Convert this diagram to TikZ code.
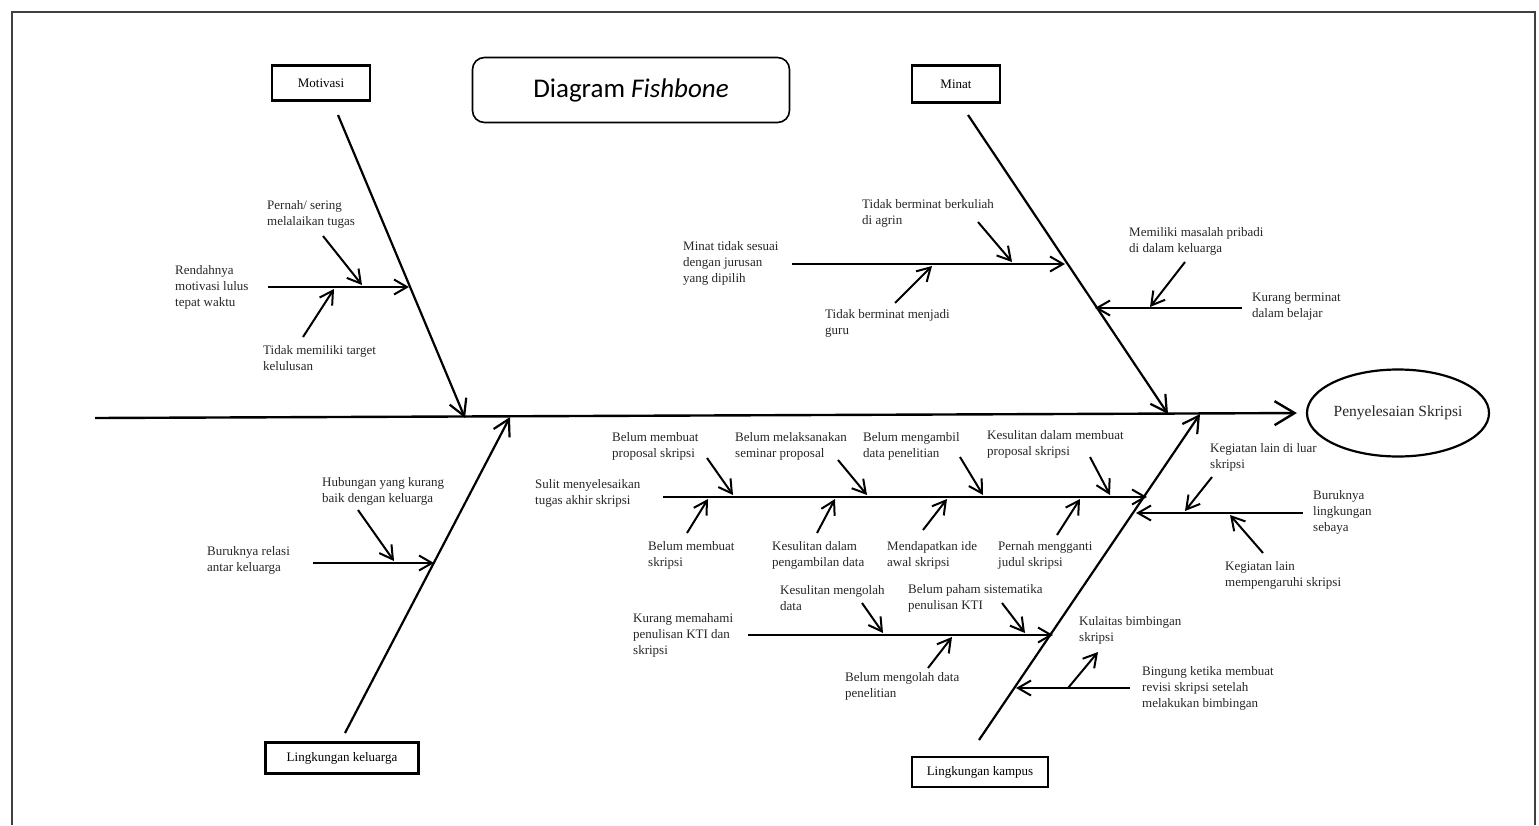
\documentclass[tikz,border=0pt]{standalone}
\usepackage{fontspec}
\setmainfont{Liberation Serif}
\newfontfamily\titlefont{Carlito}
\usetikzlibrary{arrows.meta,shapes.geometric}

\tikzset{
  cause/.style={draw, line width=2.4pt, inner sep=3pt, font=\fontsize{13}{16}\selectfont},
  lbl/.style={anchor=west, align=left, inner sep=0pt, text=black!85, font=\fontsize{13}{16}\selectfont},
  bone/.style={line width=2.2pt, -{Straight Barb[length=16pt,width=18pt]}},
  twig/.style={line width=2pt, -{Straight Barb[length=13pt,width=15pt]}},
}

\begin{document}
\begin{tikzpicture}[x=1pt, y=-1pt]
    \useasboundingbox (0,0) rectangle (1539,825);
    \draw[line width=2pt, black!75] (12,825) |- (1535,12) -- (1535,825);

    \node[draw, rounded corners=12pt, line width=1.6pt, minimum width=317pt, minimum height=65pt,
          font=\titlefont\fontsize{27}{32}\selectfont] (title) at (631,90) {Diagram \textit{Fishbone}};
    \node[draw, ellipse, line width=2.2pt, inner sep=0pt, minimum width=173pt, minimum height=87pt,
          font=\fontsize{15.5}{18}\selectfont, text=black!85] (eff) at (1398,413) {Penyelesaian Skripsi};

    \node[cause, minimum width=98pt,  minimum height=35pt] (mot) at (321,83)  {Motivasi};
    \node[cause, minimum width=153pt, minimum height=31pt] (kel) at (342,758) {Lingkungan keluarga};
    \node[cause, minimum width=88pt,  minimum height=37pt] (min) at (956,84)  {Minat};
    \node[cause, minimum width=136pt, minimum height=30pt] (kam) at (980,772) {Lingkungan kampus};

    \coordinate (tail) at (95,418);
    \coordinate (motT) at (338,115);  \coordinate (motH) at (465,418);
    \coordinate (kelT) at (345,733);  \coordinate (kelH) at (510,417);
    \coordinate (minT) at (968,115);  \coordinate (minH) at (1168,414);
    \coordinate (kamT) at (979,740);  \coordinate (kamH) at (1200,414);

    \node[lbl] (m1)  at (175,287) {Rendahnya\\motivasi lulus\\tepat waktu};
    \node[lbl] (m1a) at (267,214) {Pernah/ sering\\melalaikan tugas};
    \node[lbl] (m1b) at (263,358) {Tidak memiliki target\\kelulusan};
    \node[lbl] (k1)  at (207,560) {Buruknya relasi\\antar keluarga};
    \node[lbl] (k1a) at (322,491) {Hubungan yang kurang\\baik dengan keluarga};
    \node[lbl] (n1)  at (683,263) {Minat tidak sesuai\\dengan jurusan\\yang dipilih};
    \node[lbl] (n1a) at (862,213) {Tidak berminat berkuliah\\di agrin};
    \node[lbl] (n1b) at (825,323) {Tidak berminat menjadi\\guru};
    \node[lbl] (n2)  at (1252,306) {Kurang berminat\\dalam belajar};
    \node[lbl] (n2a) at (1129,241) {Memiliki masalah pribadi\\di dalam keluarga};
    \node[lbl] (p1)  at (535,493) {Sulit menyelesaikan\\tugas akhir skripsi};
    \node[lbl] (p1a) at (612,446) {Belum membuat\\proposal skripsi};
    \node[lbl] (p1b) at (735,446) {Belum melaksanakan\\seminar proposal};
    \node[lbl] (p1c) at (863,446) {Belum mengambil\\data penelitian};
    \node[lbl] (p1d) at (987,444) {Kesulitan dalam membuat\\proposal skripsi};
    \node[lbl] (p1e) at (648,555) {Belum membuat\\skripsi};
    \node[lbl] (p1f) at (772,555) {Kesulitan dalam\\pengambilan data};
    \node[lbl] (p1g) at (887,555) {Mendapatkan ide\\awal skripsi};
    \node[lbl] (p1h) at (998,555) {Pernah mengganti\\judul skripsi};
    \node[lbl] (p2)  at (1313,512) {Buruknya\\lingkungan\\sebaya};
    \node[lbl] (p2a) at (1210,457) {Kegiatan lain di luar\\skripsi};
    \node[lbl] (p2b) at (1225,575) {Kegiatan lain\\mempengaruhi skripsi};
    \node[lbl] (p3)  at (633,635) {Kurang memahami\\penulisan KTI dan\\skripsi};
    \node[lbl] (p3a) at (780,598) {Kesulitan mengolah\\data};
    \node[lbl] (p3b) at (908,598) {Belum paham sistematika\\penulisan KTI};
    \node[lbl] (p3c) at (845,686) {Belum mengolah data\\penelitian};
    \node[lbl] (p4)  at (1142,688) {Bingung ketika membuat\\revisi skripsi setelah\\melakukan bimbingan};
    \node[lbl] (p4a) at (1079,630) {Kulaitas bimbingan\\skripsi};

    \coordinate (m1S) at (268,287);   \coordinate (m1H) at (409,287);
    \coordinate (m1aT) at (323,236);  \coordinate (m1aH) at (362,285);
    \coordinate (m1bT) at (303,337);  \coordinate (m1bH) at (334,289);
    \coordinate (k1S) at (313,563);   \coordinate (k1H) at (434,563);
    \coordinate (k1aT) at (358,510);  \coordinate (k1aH) at (394,561);
    \coordinate (n1S) at (792,264);   \coordinate (n1H) at (1065,264);
    \coordinate (n1aT) at (978,222);  \coordinate (n1aH) at (1012,262);
    \coordinate (n1bT) at (895,303);  \coordinate (n1bH) at (932,266);
    \coordinate (n2S) at (1242,308);  \coordinate (n2H) at (1095,308);
    \coordinate (n2aT) at (1185,262); \coordinate (n2aH) at (1150,307);
    \coordinate (p1S) at (663,497);   \coordinate (p1H) at (1147,497);
    \coordinate (p1aT) at (707,458);  \coordinate (p1aH) at (733,495);
    \coordinate (p1bT) at (838,460);  \coordinate (p1bH) at (867,495);
    \coordinate (p1cT) at (960,457);  \coordinate (p1cH) at (983,495);
    \coordinate (p1dT) at (1090,457); \coordinate (p1dH) at (1110,495);
    \coordinate (p1eT) at (687,533);  \coordinate (p1eH) at (708,499);
    \coordinate (p1fT) at (817,533);  \coordinate (p1fH) at (835,499);
    \coordinate (p1gT) at (923,530);  \coordinate (p1gH) at (947,499);
    \coordinate (p1hT) at (1057,535); \coordinate (p1hH) at (1080,499);
    \coordinate (p2S) at (1303,513);  \coordinate (p2H) at (1136,513);
    \coordinate (p2aT) at (1212,477); \coordinate (p2aH) at (1185,511);
    \coordinate (p2bT) at (1263,553); \coordinate (p2bH) at (1230,515);
    \coordinate (p3S) at (748,635);   \coordinate (p3H) at (1053,635);
    \coordinate (p3aT) at (862,603);  \coordinate (p3aH) at (883,633);
    \coordinate (p3bT) at (1002,603); \coordinate (p3bH) at (1025,633);
    \coordinate (p3cT) at (928,668);  \coordinate (p3cH) at (952,637);
    \coordinate (p4S) at (1130,688);  \coordinate (p4H) at (1016,688);
    \coordinate (p4aT) at (1068,688); \coordinate (p4aH) at (1098,652);

    \draw[line width=2.4pt, -{Straight Barb[length=20pt,width=24pt]}, shorten >=9pt] (tail) -- (eff.west);
    \draw[bone] (motT) -- (motH);
    \draw[bone] (kelT) -- (kelH);
    \draw[bone] (minT) -- (minH);
    \draw[bone] (kamT) -- (kamH);

    \draw[twig] (m1S) -- (m1H);
    \draw[twig] (m1aT) -- (m1aH);
    \draw[twig] (m1bT) -- (m1bH);
    \draw[twig] (k1S) -- (k1H);
    \draw[twig] (k1aT) -- (k1aH);
    \draw[twig] (n1S) -- (n1H);
    \draw[twig] (n1aT) -- (n1aH);
    \draw[twig] (n1bT) -- (n1bH);
    \draw[twig] (n2S) -- (n2H);
    \draw[twig] (n2aT) -- (n2aH);
    \draw[twig] (p1S) -- (p1H);
    \draw[twig] (p1aT) -- (p1aH);
    \draw[twig] (p1bT) -- (p1bH);
    \draw[twig] (p1cT) -- (p1cH);
    \draw[twig] (p1dT) -- (p1dH);
    \draw[twig] (p1eT) -- (p1eH);
    \draw[twig] (p1fT) -- (p1fH);
    \draw[twig] (p1gT) -- (p1gH);
    \draw[twig] (p1hT) -- (p1hH);
    \draw[twig] (p2S) -- (p2H);
    \draw[twig] (p2aT) -- (p2aH);
    \draw[twig] (p2bT) -- (p2bH);
    \draw[twig] (p3S) -- (p3H);
    \draw[twig] (p3aT) -- (p3aH);
    \draw[twig] (p3bT) -- (p3bH);
    \draw[twig] (p3cT) -- (p3cH);
    \draw[twig] (p4S) -- (p4H);
    \draw[twig] (p4aT) -- (p4aH);
\end{tikzpicture}
\end{document}
